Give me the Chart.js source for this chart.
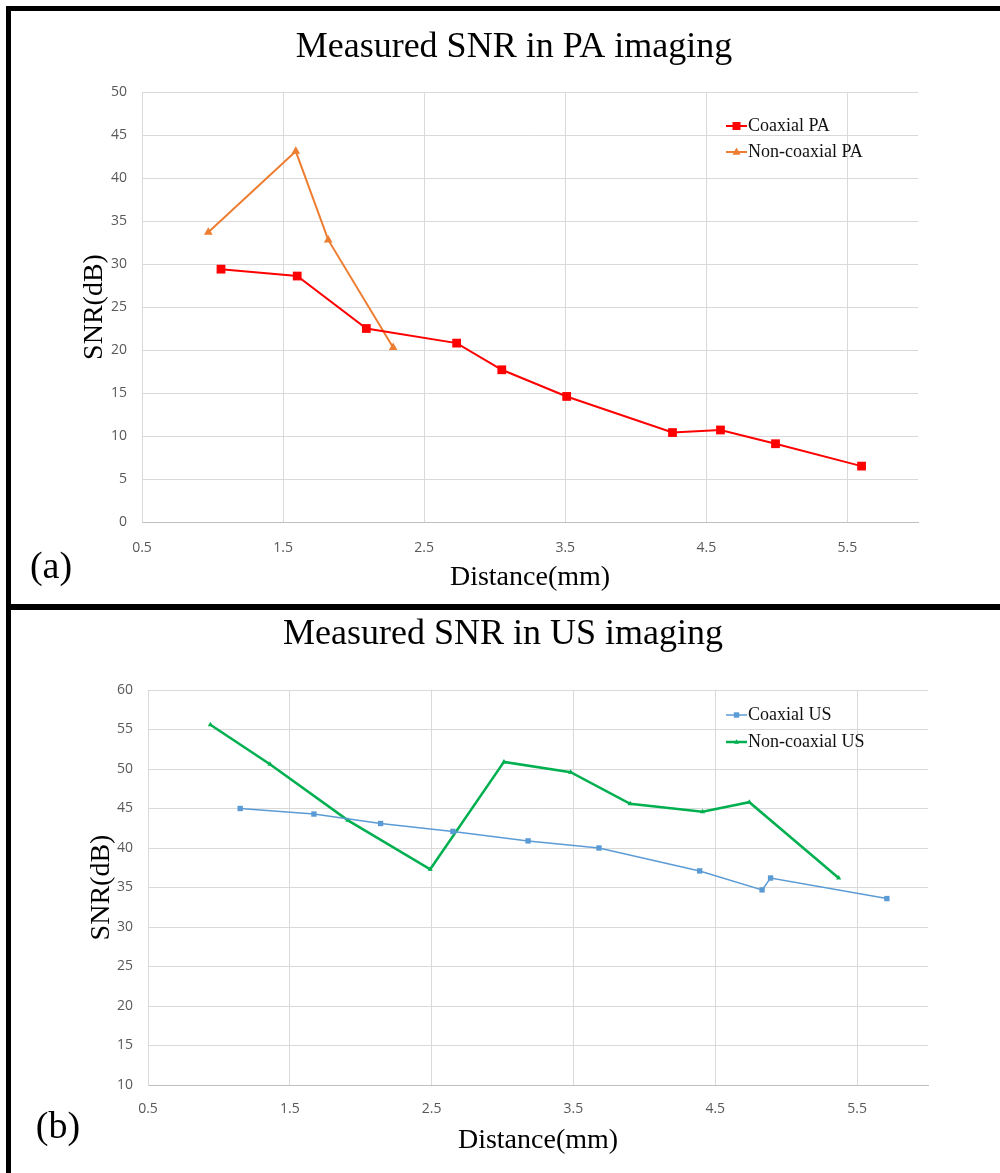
<!DOCTYPE html>
<html>
<head>
<meta charset="utf-8">
<script src="https://cdn.jsdelivr.net/npm/chart.js@4/dist/chart.umd.min.js"></script>
<style>
  html, body { margin: 0; padding: 0; background: #fff; }
  #page { position: relative; width: 1000px; height: 1173px; overflow: hidden; background: #fff; }
  canvas { position: absolute; left: 0; }
  #c1 { top: 0; }
  #c2 { top: 610px; }
  .bar { position: absolute; background: #000; z-index: 5; }
</style>
</head>
<body>
<div id="page">
  <canvas id="c1" width="1000" height="604"></canvas>
  <canvas id="c2" width="1000" height="563"></canvas>
  <div class="bar" style="left:6px;top:6px;width:994px;height:5px;"></div>
  <div class="bar" style="left:6px;top:6px;width:5px;height:1167px;"></div>
  <div class="bar" style="left:6px;top:604px;width:994px;height:6px;"></div>
</div>
<script>
// ---------- data ----------
const xTickValues = [0.5, 1.5, 2.5, 3.5, 4.5, 5.5];

const paCoaxialX = [1.06, 1.60, 2.09, 2.73, 3.05, 3.51, 4.26, 4.60, 4.99, 5.60];
const paCoaxialY = [29.4, 28.6, 22.5, 20.8, 17.7, 14.6, 10.4, 10.7, 9.1, 6.5];
const paNonCoaxialX = [0.97, 1.59, 1.82, 2.28];
const paNonCoaxialY = [33.7, 43.1, 32.8, 20.3];

const usCoaxialX = [1.15, 1.67, 2.14, 2.65, 3.18, 3.68, 4.39, 4.83, 4.89, 5.71];
const usCoaxialY = [45.0, 44.3, 43.1, 42.1, 40.9, 40.0, 37.1, 34.7, 36.2, 33.6];
const usNonCoaxialX = [0.94, 1.36, 1.91, 2.49, 3.01, 3.48, 3.90, 4.41, 4.74, 5.37];
const usNonCoaxialY = [55.6, 50.6, 43.5, 37.3, 50.9, 49.6, 45.6, 44.6, 45.8, 36.2];

const labelsPA = ['Coaxial PA', 'Non-coaxial PA'];
const labelsUS = ['Coaxial US', 'Non-coaxial US'];
const titles = ['Measured SNR in PA imaging', 'Measured SNR in US imaging'];
const xTitle = 'Distance(mm)';
const yTitle = 'SNR(dB)';
const panelLetters = ['(a)', '(b)'];

function pts(xs, ys) { return xs.map((x, i) => ({ x: x, y: ys[i] })); }

const SERIF = "'Liberation Serif', 'Times New Roman', serif";
const SANS = "'Open Sans', 'Liberation Sans', sans-serif";

// custom legend + panel letter plugin (also recentres the title box)
const decorPlugin = {
  id: 'decor',
  afterLayout(chart, args, opts) {
    const t = chart.titleBlock;
    if (t && opts.titleCenter) {
      const w = t.right - t.left;
      t.left = opts.titleCenter - w / 2;
      t.right = opts.titleCenter + w / 2;
    }
  },
  afterDraw(chart, args, opts) {
    const ctx = chart.ctx;
    ctx.save();
    chart.data.datasets.forEach((ds, i) => {
      const y = opts.y + i * opts.gap;
      const x0 = opts.x, x1 = opts.x + 21, cx = (x0 + x1) / 2;
      ctx.strokeStyle = ds.borderColor;
      ctx.lineWidth = ds.borderWidth;
      ctx.beginPath(); ctx.moveTo(x0, y); ctx.lineTo(x1, y); ctx.stroke();
      ctx.fillStyle = ds.pointBackgroundColor;
      const r = ds.legendMarker;
      if (ds.pointStyle === 'rect') {
        ctx.fillRect(cx - r, y - r, 2 * r, 2 * r);
      } else {
        ctx.beginPath();
        ctx.moveTo(cx, y - r * 1.1);
        ctx.lineTo(cx + r, y + r * 0.7);
        ctx.lineTo(cx - r, y + r * 0.7);
        ctx.closePath(); ctx.fill();
      }
      ctx.fillStyle = '#111';
      ctx.font = '18px ' + SERIF;
      ctx.textAlign = 'left';
      ctx.textBaseline = 'middle';
      ctx.fillText(ds.label, x1 + 1, y);
    });
    ctx.fillStyle = '#000';
    ctx.font = '38px ' + SERIF;
    ctx.textAlign = 'center';
    ctx.textBaseline = 'middle';
    ctx.fillText(opts.letter, opts.lx, opts.ly);
    ctx.restore();
  }
};

function makeChart(id, cfg) {
  return new Chart(document.getElementById(id), {
    type: 'scatter',
    data: { datasets: cfg.datasets },
    plugins: [decorPlugin],
    options: {
      responsive: false,
      animation: false,
      devicePixelRatio: 1,
      layout: { padding: cfg.padding },
      plugins: {
        legend: { display: false },
        tooltip: { enabled: false },
        title: {
          display: true,
          text: cfg.title,
          color: '#000',
          font: { family: SERIF, size: 36, weight: 'normal', lineHeight: 1.2 },
          padding: cfg.titlePad
        },
        decor: cfg.decor
      },
      scales: {
        x: {
          type: 'linear',
          min: 0.5, max: 6,
          afterBuildTicks: (s) => { s.ticks = xTickValues.map(v => ({ value: v })); },
          afterFit: (s) => { s.height = cfg.xHeight; },
          ticks: {
            color: '#595959', font: { family: SANS, size: 14 }, padding: cfg.xTickPad,
            callback: (v) => v.toFixed(1)
          },
          grid: { color: '#d9d9d9', lineWidth: 1, drawTicks: false },
          border: { color: '#bfbfbf', width: 1 },
          title: {
            display: true, text: xTitle, color: '#000',
            font: { family: SERIF, size: 28, weight: 'normal' },
            padding: { top: 0, bottom: cfg.xTitlePad }
          }
        },
        y: {
          min: cfg.yMin, max: cfg.yMax,
          afterFit: (s) => { s.width = cfg.yWidth; },
          ticks: {
            stepSize: 5, color: '#595959', font: { family: SANS, size: 14 }, padding: cfg.yTickPad
          },
          grid: { color: '#d9d9d9', lineWidth: 1, drawTicks: false },
          border: { color: '#d9d9d9', width: 1 },
          title: {
            display: true, text: yTitle, color: '#000',
            font: { family: SERIF, size: 28, weight: 'normal' },
            padding: { top: cfg.yTitlePad, bottom: 0 }
          }
        }
      }
    }
  });
}

makeChart('c1', {
  title: titles[0],
  padding: { top: 26, left: 50, right: 82, bottom: 0 },
  titlePad: { top: 0, bottom: 22.8 },
  xHeight: 82, yWidth: 92,
  xTickPad: 18, yTickPad: 15, xTitlePad: 10, yTitlePad: 28,
  yMin: 0, yMax: 50,
  decor: { x: 726, y: 126, gap: 26, letter: panelLetters[0], lx: 51, ly: 568, titleCenter: 514 },
  datasets: [
    {
      label: labelsPA[0], data: pts(paCoaxialX, paCoaxialY), showLine: true,
      borderColor: '#ff0000', borderWidth: 2, pointStyle: 'rect', pointRadius: 6.2,
      pointBackgroundColor: '#ff0000', pointBorderColor: '#ff0000', pointBorderWidth: 0,
      legendMarker: 4
    },
    {
      label: labelsPA[1], data: pts(paNonCoaxialX, paNonCoaxialY), showLine: true,
      borderColor: '#ed7d31', borderWidth: 2, pointStyle: 'triangle', pointRadius: 5,
      pointBackgroundColor: '#ed7d31', pointBorderColor: '#ed7d31', pointBorderWidth: 0,
      legendMarker: 4
    }
  ]
});

makeChart('c2', {
  title: titles[1],
  padding: { top: 3, left: 50, right: 72, bottom: 0 },
  titlePad: { top: 0, bottom: 33.8 },
  xHeight: 88, yWidth: 98,
  xTickPad: 16, yTickPad: 15, xTitlePad: 16, yTitlePad: 35,
  yMin: 10, yMax: 60,
  decor: { x: 726, y: 105, gap: 27, letter: panelLetters[1], lx: 58, ly: 518, titleCenter: 503 },
  datasets: [
    {
      label: labelsUS[0], data: pts(usCoaxialX, usCoaxialY), showLine: true,
      borderColor: '#5b9bd5', borderWidth: 1.5, pointStyle: 'rect', pointRadius: 3.8,
      pointBackgroundColor: '#5b9bd5', pointBorderColor: '#5b9bd5', pointBorderWidth: 0,
      legendMarker: 2.7
    },
    {
      label: labelsUS[1], data: pts(usNonCoaxialX, usNonCoaxialY), showLine: true,
      borderColor: '#00b050', borderWidth: 2.5, pointStyle: 'triangle', pointRadius: 3,
      pointBackgroundColor: '#00b050', pointBorderColor: '#00b050', pointBorderWidth: 0,
      legendMarker: 2.5
    }
  ]
});
</script>
</body>
</html>
